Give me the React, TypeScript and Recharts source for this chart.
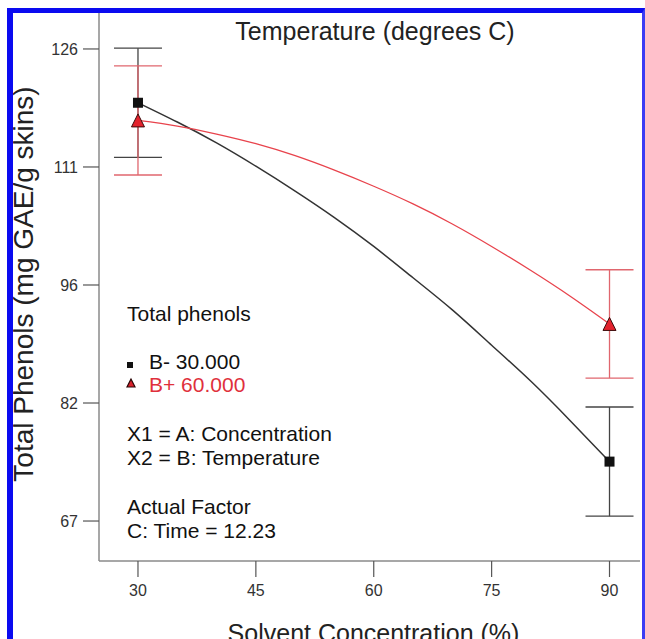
import React from "react";
import {
  ComposedChart,
  Line,
  Scatter,
  ErrorBar,
  XAxis,
  YAxis,
  Label,
} from "recharts";

// Solvent concentration (%) sampled along the fitted model curves
const concentration = [30, 35, 40, 45, 50, 55, 60, 65, 70, 75, 80, 85, 90];
// Model prediction, temperature at its low level (B- 30.000)
const fitLow = [119.0, 116.6, 114.0, 111.1, 108.0, 104.7, 101.1, 97.2, 93.2, 88.8, 84.3, 79.4, 74.3];
// Model prediction, temperature at its high level (B+ 60.000)
const fitHigh = [116.8, 116.1, 115.1, 113.9, 112.4, 110.6, 108.6, 106.4, 103.9, 101.1, 98.1, 94.9, 91.45];

// Design points with their LSD half-widths
const designX = [30, 90];
const designLow = [119.0, 74.3];
const designHigh = [116.8, 91.45];
const lsdLow = [6.8, 6.8];
const lsdHigh = [6.8, 6.75];

const xTicks = [30, 45, 60, 75, 90];
const yTicks = [66.9, 81.6, 96.3, 111.0, 125.7];

const FONT = "'Liberation Sans', Arial, Helvetica, sans-serif";
const BLACK = "#333333";
const RED = "#e8434c";
const RED_BAR = "#e0666e";

const curveRows = concentration.map((x, i) => ({ x, low: fitLow[i], high: fitHigh[i] }));
const lowPoints = designX.map((x, i) => ({ x, y: designLow[i], err: lsdLow[i] }));
const highPoints = designX.map((x, i) => ({ x, y: designHigh[i], err: lsdHigh[i] }));

const SquareMark = (props: any) => {
  const { cx, cy } = props;
  if (cx == null || cy == null) return <g />;
  return <rect x={cx - 5} y={cy - 5} width={10} height={10} fill="#111" />;
};

const TriangleMark = (props: any) => {
  const { cx, cy } = props;
  if (cx == null || cy == null) return <g />;
  const h = 6.5;
  return (
    <polygon
      points={`${cx},${cy - h} ${cx - h},${cy + h} ${cx + h},${cy + h}`}
      fill="#e3222d"
      stroke="#3a0a0a"
      strokeWidth={1}
    />
  );
};

const NoMark = () => <g />;

const legendItems = [
  { label: "B- 30.000", color: "#111", shape: "square" },
  { label: "B+ 60.000", color: "#e0303c", shape: "triangle" },
];

const notes = [
  ["X1 = A: Concentration", "X2 = B: Temperature"],
  ["Actual Factor", "C: Time = 12.23"],
];

export default function App() {
  return (
    <div
      style={{
        position: "absolute",
        left: 0,
        top: 0,
        width: 645,
        height: 639,
        background: "#fff",
        overflow: "hidden",
        fontFamily: FONT,
      }}
    >
      <ComposedChart
        width={645}
        height={639}
        data={curveRows}
        margin={{ top: 13, right: 5, bottom: 0, left: 0 }}
      >
        <XAxis
          type="number"
          dataKey="x"
          domain={[25.04, 93.88]}
          allowDataOverflow
          ticks={xTicks}
          interval={0}
          tickSize={16}
          tickMargin={8}
          height={78}
          axisLine={{ stroke: "#8a8a8a", strokeWidth: 1.5 }}
          tickLine={{ stroke: "#555", strokeWidth: 1.2 }}
          tick={{ fill: "#333", fontSize: 16, fontFamily: FONT }}
        >
          <Label
            value="Solvent Concentration (%)"
            position="insideBottom"
            offset={-3}
            dx={4}
            style={{ fill: "#222", fontSize: 25, fontFamily: FONT }}
          />
        </XAxis>
        <YAxis
          type="number"
          domain={[61.92, 130.18]}
          allowDataOverflow
          ticks={yTicks}
          interval={0}
          width={99}
          tickSize={16}
          tickMargin={5}
          tickFormatter={(v: number) => String(Math.round(v))}
          axisLine={{ stroke: "#8a8a8a", strokeWidth: 1.5 }}
          tickLine={{ stroke: "#555", strokeWidth: 1.2 }}
          tick={{ fill: "#333", fontSize: 16, fontFamily: FONT }}
        >
          <Label
            content={() => (
              <text
                x={33}
                y={284}
                transform="rotate(-90 33 284)"
                textAnchor="middle"
                fill="#222"
                fontSize={28}
                fontFamily={FONT}
              >
                Total Phenols (mg GAE/g skins)
              </text>
            )}
          />
        </YAxis>

        {/* LSD bars */}
        <Scatter data={lowPoints} dataKey="y" shape={NoMark} isAnimationActive={false}>
          <ErrorBar dataKey="err" direction="y" width={24} stroke="#444" strokeWidth={1.3} />
        </Scatter>
        <Scatter data={highPoints} dataKey="y" shape={NoMark} isAnimationActive={false}>
          <ErrorBar dataKey="err" direction="y" width={24} stroke={RED_BAR} strokeWidth={1.3} />
        </Scatter>

        {/* Fitted model curves */}
        <Line
          dataKey="low"
          type="natural"
          stroke={BLACK}
          strokeWidth={1.5}
          dot={false}
          activeDot={false}
          isAnimationActive={false}
        />
        <Line
          dataKey="high"
          type="natural"
          stroke={RED}
          strokeWidth={1.3}
          dot={false}
          activeDot={false}
          isAnimationActive={false}
        />

        {/* Design point markers */}
        <Scatter data={lowPoints} dataKey="y" shape={SquareMark} isAnimationActive={false} />
        <Scatter data={highPoints} dataKey="y" shape={TriangleMark} isAnimationActive={false} />
      </ComposedChart>

      {/* Title, factor legend and notes */}
      <svg
        width={645}
        height={639}
        style={{ position: "absolute", left: 0, top: 0, pointerEvents: "none" }}
      >
        <text x={375} y={40} textAnchor="middle" fill="#222" fontSize={25} fontFamily={FONT}>
          Temperature (degrees C)
        </text>
        <text x={127} y={321} fill="#111" fontSize={21} fontFamily={FONT}>
          Total phenols
        </text>
        {legendItems.map((item, i) => {
          const base = 369 + i * 23;
          return (
            <g key={item.label}>
              {item.shape === "square" ? (
                <rect x={127} y={base - 7} width={6} height={6} fill={item.color} />
              ) : (
                <polygon
                  points={`131,${base - 13} 127,${base - 5} 135,${base - 5}`}
                  fill="#d9222c"
                  stroke="#2a0606"
                  strokeWidth={1.2}
                />
              )}
              <text x={149} y={base} fill={item.color} fontSize={21} fontFamily={FONT}>
                {item.label}
              </text>
            </g>
          );
        })}
        {notes.map((group, g) =>
          group.map((line, j) => (
            <text
              key={line}
              x={127}
              y={441 + g * 73 + j * 24}
              fill="#111"
              fontSize={21}
              fontFamily={FONT}
            >
              {line}
            </text>
          ))
        )}
      </svg>

      {/* Frame */}
      <div
        style={{
          position: "absolute",
          left: 7,
          top: 8,
          width: 645 - 7 - 6 - 3,
          height: 639,
          borderLeft: "6px solid #0a0af0",
          borderTop: "5px solid #0a0af0",
          borderRight: "3px solid #3c3cf4",
          pointerEvents: "none",
        }}
      />
    </div>
  );
}
